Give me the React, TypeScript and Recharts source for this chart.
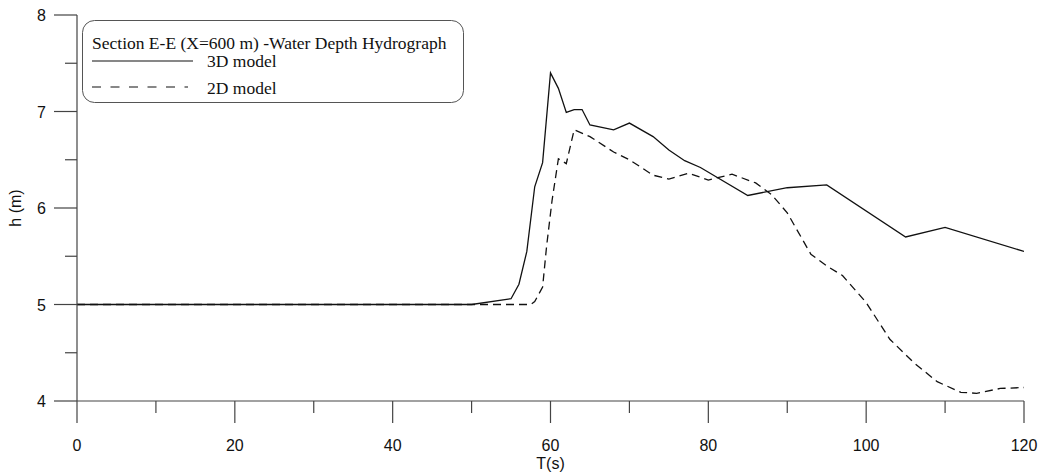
import React from 'react';
import { LineChart, Line, XAxis, YAxis, Legend } from 'recharts';

const t3d = [0, 50, 55, 56, 57, 58, 59, 60, 61, 62, 63, 64, 65, 68, 70, 73, 75, 77, 79, 85, 90, 95, 105, 110, 120];
const h3d = [5.0, 5.0, 5.06, 5.21, 5.55, 6.22, 6.47, 7.4, 7.24, 6.99, 7.02, 7.02, 6.86, 6.81, 6.88, 6.74, 6.6, 6.49, 6.42, 6.13, 6.21, 6.24, 5.7, 5.8, 5.55];

const t2d = [0, 57.5, 58, 59, 59.5, 60.2, 61, 62, 63, 65, 68, 70, 73, 75, 77.5, 80, 83, 86, 88, 90, 93, 95, 97, 100, 103, 106, 109, 112, 114, 117, 120];
const h2d = [5.0, 5.0, 5.03, 5.18, 5.6, 6.08, 6.51, 6.46, 6.81, 6.74, 6.58, 6.5, 6.34, 6.3, 6.36, 6.29, 6.35, 6.26, 6.14, 5.95, 5.52, 5.4, 5.3, 5.02, 4.64, 4.4, 4.2, 4.09, 4.08, 4.13, 4.14];

const xTicks = [0, 10, 20, 30, 40, 50, 60, 70, 80, 90, 100, 110, 120];
const yTicks = [4, 4.5, 5, 5.5, 6, 6.5, 7, 7.5, 8];

const legendTitle = 'Section E-E (X=600 m) -Water Depth Hydrograph';
const seriesNames = ['3D model', '2D model'];

const data3d = t3d.map((t, i) => ({ t, h: h3d[i] }));
const data2d = t2d.map((t, i) => ({ t, h: h2d[i] }));

const AXIS = '#444';
const SANS = '"Liberation Sans", Arial, sans-serif';
const SERIF = '"Liberation Serif", "Times New Roman", serif';

const XTick = (props: any) => {
  const { x, y, payload } = props;
  const major = payload.value % 20 === 0;
  return (
    <g>
      <line x1={x} y1={y} x2={x} y2={y + (major ? 22 : 12)} stroke={AXIS} strokeWidth={1.2} />
      {major && (
        <text x={x} y={y + 50} textAnchor="middle" fontFamily={SANS} fontSize={16} fill="#111">
          {payload.value}
        </text>
      )}
    </g>
  );
};

const YTick = (props: any) => {
  const { x, y, payload } = props;
  const major = Number.isInteger(payload.value);
  return (
    <g>
      <line x1={x - (major ? 23 : 12)} y1={y} x2={x} y2={y} stroke={AXIS} strokeWidth={1.2} />
      {major && (
        <text x={x - 31} y={y + 6} textAnchor="end" fontFamily={SANS} fontSize={16} fill="#111">
          {payload.value}
        </text>
      )}
    </g>
  );
};

const LegendBox = () => (
  <svg width={383} height={84} style={{ display: 'block' }}>
    <rect x={0.5} y={0.5} width={381} height={82} rx={12} ry={12} fill="#fff" stroke="#555" strokeWidth={1} />
    <text x={10} y={29} fontFamily={SERIF} fontSize={17.5} fill="#111">{legendTitle}</text>
    <line x1={10} y1={41} x2={111} y2={41} stroke="#111" strokeWidth={1.2} />
    <text x={125} y={47} fontFamily={SERIF} fontSize={17.5} fill="#111">{seriesNames[0]}</text>
    <line x1={10} y1={67} x2={106} y2={67} stroke="#111" strokeWidth={1.2} strokeDasharray="9 9.5" />
    <text x={125} y={74} fontFamily={SERIF} fontSize={17.5} fill="#111">{seriesNames[1]}</text>
  </svg>
);

export default function App() {
  return (
    <div style={{ position: 'absolute', left: 0, top: 0, width: 1043, height: 473, background: '#fff' }}>
      <LineChart width={1043} height={473} margin={{ top: 15, right: 19, left: 0, bottom: 0 }}>
        <XAxis
          type="number"
          dataKey="t"
          domain={[0, 120]}
          ticks={xTicks}
          interval={0}
          allowDataOverflow
          height={72}
          tickSize={0}
          tickMargin={0}
          tickLine={false}
          tick={<XTick />}
          axisLine={{ stroke: AXIS, strokeWidth: 1.2 }}
          label={{ value: 'T(s)', position: 'insideBottom', offset: 4, fontFamily: SANS, fontSize: 16, fill: '#111' }}
        />
        <YAxis
          type="number"
          domain={[4, 8]}
          ticks={yTicks}
          interval={0}
          allowDataOverflow
          width={77}
          tickSize={0}
          tickMargin={0}
          tickLine={false}
          tick={<YTick />}
          axisLine={{ stroke: AXIS, strokeWidth: 1.2 }}
          label={{ value: 'h (m)', angle: -90, position: 'insideLeft', offset: 15, fontFamily: SANS, fontSize: 16, fill: '#111', style: { textAnchor: 'middle' } }}
        />
        <Legend
          layout="horizontal"
          verticalAlign="middle"
          align="center"
          wrapperStyle={{ position: 'absolute', left: 82, top: 20, width: 383, height: 84 }}
          content={() => <LegendBox />}
        />
        <Line
          data={data3d}
          dataKey="h"
          name={seriesNames[0]}
          type="linear"
          stroke="#111"
          strokeWidth={1.3}
          dot={false}
          activeDot={false}
          isAnimationActive={false}
        />
        <Line
          data={data2d}
          dataKey="h"
          name={seriesNames[1]}
          type="linear"
          stroke="#111"
          strokeWidth={1.3}
          strokeDasharray="8 5"
          dot={false}
          activeDot={false}
          isAnimationActive={false}
        />
      </LineChart>
    </div>
  );
}
